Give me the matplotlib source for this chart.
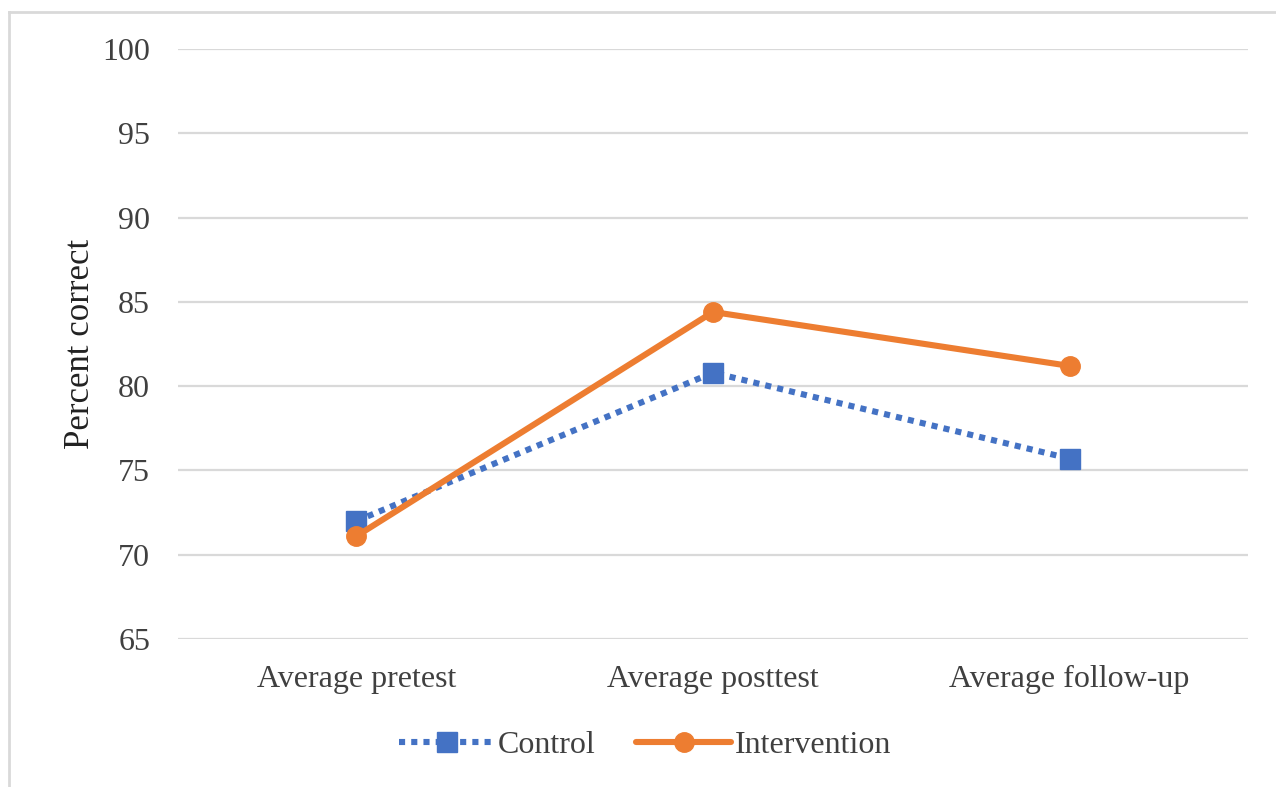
import matplotlib
matplotlib.use("Agg")
import matplotlib.pyplot as plt
from matplotlib.lines import Line2D

categories = ["Average pretest", "Average posttest", "Average follow-up"]
control = [72.0, 80.8, 75.7]
intervention = [71.1, 84.4, 81.2]
yticks = [65, 70, 75, 80, 85, 90, 95, 100]

plt.rcParams['font.family'] = ['Liberation Serif', 'DejaVu Serif']

fig = plt.figure(figsize=(12.76, 7.87), dpi=100)
ax = fig.add_axes([178/1276, 1-639/787, (1248-178)/1276, (639-49)/787])

blue = "#4472C4"
orange = "#ED7D31"
x = list(range(len(categories)))

ax.plot(x, control, color=blue, lw=4.4, linestyle=(0, (1.0, 1.0)),
        dash_capstyle='butt', marker='s', markersize=14, label="Control", zorder=3)
ax.plot(x, intervention, color=orange, lw=4.4, solid_capstyle='round',
        marker='o', markersize=14, label="Intervention", zorder=4)

ax.set_xlim(-0.5, 2.5)
ax.set_ylim(65, 100)
ax.set_yticks(yticks)
ax.set_xticks(x)
ax.set_xticklabels(categories)
ax.grid(axis='y', color='#d9d9d9', lw=1.6)
ax.set_axisbelow(True)
for s in ax.spines.values():
    s.set_visible(False)
ax.tick_params(axis='both', length=0, labelsize=23, colors='#404040')
ax.tick_params(axis='x', pad=19)
ax.tick_params(axis='y', pad=20)
ax.set_ylabel("Percent correct", fontsize=25, color='#222222', labelpad=4)

leg = fig.legend(loc='center', bbox_to_anchor=(645/1276, 1-745/787), ncol=2,
                 frameon=False, fontsize=23, handlelength=3.0, columnspacing=1.25,
                 handletextpad=0.1)
for t in leg.get_texts():
    t.set_color('#404040')

# outer frame
fig.add_artist(Line2D([9/1276, 9/1276], [0, 1-12/787], color='#d9d9d9', lw=2,
                      transform=fig.transFigure))
fig.add_artist(Line2D([9/1276, 1], [1-12/787, 1-12/787], color='#d9d9d9', lw=2,
                      transform=fig.transFigure))

fig.savefig("out.png", dpi=100)
